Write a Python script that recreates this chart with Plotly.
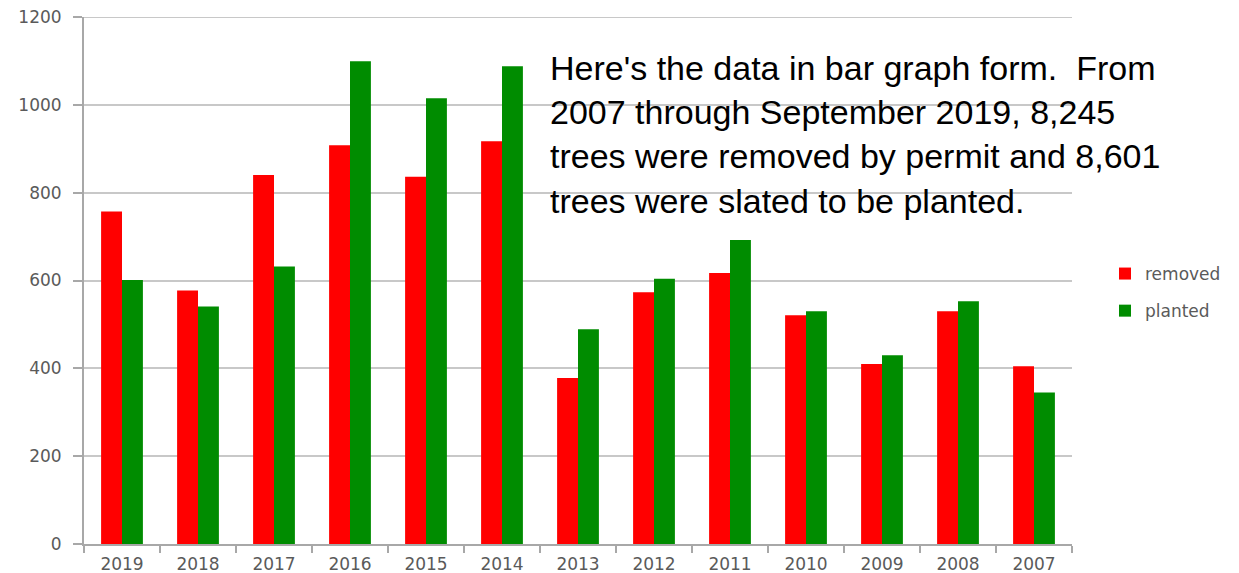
import plotly.graph_objects as go

years = ["2019", "2018", "2017", "2016", "2015", "2014", "2013",
         "2012", "2011", "2010", "2009", "2008", "2007"]
removed = [757, 577, 840, 908, 836, 917, 378, 573, 617, 521, 410, 530, 405]
planted = [601, 541, 632, 1099, 1015, 1088, 489, 604, 692, 530, 430, 553, 345]

y_ticks = [0, 200, 400, 600, 800, 1000, 1200]
y_max = 1200

note = ("Here's the data in bar graph form.  From<br>"
        "2007 through September 2019, 8,245<br>"
        "trees were removed by permit and 8,601<br>"
        "trees were slated to be planted.")

# page is rendered with an 8px body margin, so the figure is sized to fit
OFF = 8
PAGE_W, PAGE_H = 1239, 573
PX_L, PX_R, PX_T, PX_B = 84, 1072, 17, 544   # plot area in page pixels

W, H = PAGE_W - OFF, PAGE_H - OFF
L, T = PX_L - OFF, PX_T - OFF
R, B = PAGE_W - PX_R, PAGE_H - PX_B
pw, ph = PX_R - PX_L, PX_B - PX_T

GRID = "#c8c8c8"


def px_x(x):
    return (x - PX_L) / pw


def px_y(y):
    return (PX_B - y) / ph


fig = go.Figure()
fig.add_trace(go.Bar(x=years, y=removed, name="removed",
                     marker=dict(color="#FF0000", line=dict(width=0)),
                     legendgroup="r"))
fig.add_trace(go.Bar(x=years, y=planted, name="planted",
                     marker=dict(color="#008C00", line=dict(width=0)),
                     legendgroup="p"))

tick_font = dict(family="DejaVu Sans", size=17, color="#5a5a5a")

fig.update_layout(
    width=W, height=H,
    margin=dict(l=L, r=R, t=T, b=B, pad=0, autoexpand=False),
    paper_bgcolor="white", plot_bgcolor="white",
    barmode="group", bargap=0.45, bargroupgap=0,
    showlegend=True,
    legend=dict(x=px_x(1105), y=px_y(256), xanchor="left", yanchor="top",
                font=dict(family="DejaVu Sans", size=17, color="#5a5a5a"),
                tracegroupgap=12, bgcolor="rgba(0,0,0,0)",
                itemclick=False),
    xaxis=dict(type="category", tickson="boundaries", ticks="outside",
               ticklen=7, tickcolor="#a8a8a8", tickwidth=2,
               showline=True, linecolor="#a8a8a8", linewidth=2,
               showgrid=False, tickfont=tick_font, ticklabelstandoff=4,
               automargin=False, ticklabeloverflow="allow"),
    yaxis=dict(range=[0, y_max], tickvals=y_ticks, ticks="outside",
               ticklen=9, tickcolor="#a8a8a8", tickwidth=2,
               showline=True, linecolor="#a8a8a8", linewidth=2,
               showgrid=True, gridcolor=GRID, gridwidth=2,
               zeroline=False, tickfont=tick_font, ticklabelstandoff=8,
               automargin=False, ticklabeloverflow="allow"),
    shapes=[dict(type="line", xref="paper", yref="y", x0=0, x1=1,
                 y0=y_max, y1=y_max, layer="below",
                 line=dict(color=GRID, width=2))],
    annotations=[dict(text=note, xref="paper", yref="paper",
                      x=px_x(548), y=px_y(134), xanchor="left",
                      yanchor="middle", align="left", showarrow=False,
                      font=dict(family="Liberation Sans", size=34,
                                color="#000000"))],
)

fig.write_html("out.html")
